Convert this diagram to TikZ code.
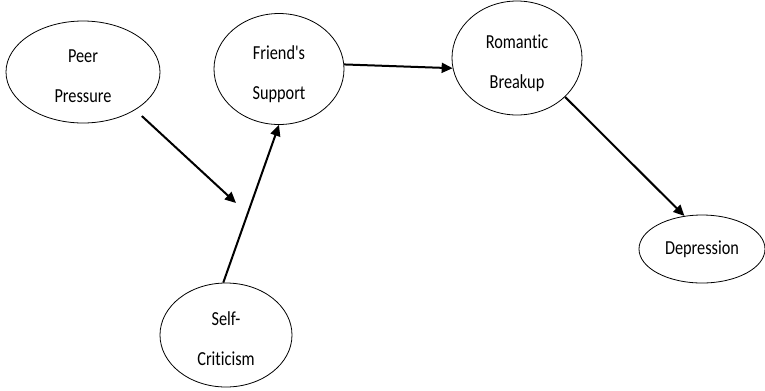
\documentclass[tikz,border=0pt]{standalone}
\usepackage{fontspec}
\setmainfont{Carlito}[Ligatures={NoCommon}]
\usetikzlibrary{shapes.geometric,arrows.meta}
\newcommand\tallword[1]{\scalebox{1}[1.22]{#1}\rule[-3bp]{0pt}{27bp}}
\begin{document}
\begin{tikzpicture}[x=1bp,y=-1bp,
  oval/.style={ellipse,draw,line width=0.8bp,inner sep=0pt,align=center,
    font=\fontsize{16.3bp}{40bp}\selectfont},
  link/.style={line width=2bp,-{Triangle[length=11bp,width=10bp]}}]
\useasboundingbox (0,0) rectangle (765,390);
\node[oval,minimum width=154bp,minimum height=102bp] (pp) at (83,72) {\tallword{Peer}\\\tallword{Pressure}};
\node[oval,minimum width=130bp,minimum height=111bp] (fs) at (279,69) {\tallword{Friend\textquotesingle s}\\\tallword{Support}};
\node[oval,minimum width=130bp,minimum height=114bp] (rb) at (517,58) {\tallword{Romantic}\\\tallword{Breakup}};
\node[oval,minimum width=126bp,minimum height=68bp] (dp) at (702,249) {\scalebox{1}[1.22]{Depression}};
\node[oval,minimum width=132bp,minimum height=104bp] (sc) at (226,335) {\tallword{Self-}\\\tallword{Criticism}};
\coordinate (dangle) at (236,203);
\draw[link,shorten <=9bp] (pp.-36) -- (dangle);
\draw[link] (sc.93) -- (fs.south);
\draw[link] (fs.4) -- (rb.189);
\draw[link] (rb.-39) -- (dp.118);
\end{tikzpicture}
\end{document}
